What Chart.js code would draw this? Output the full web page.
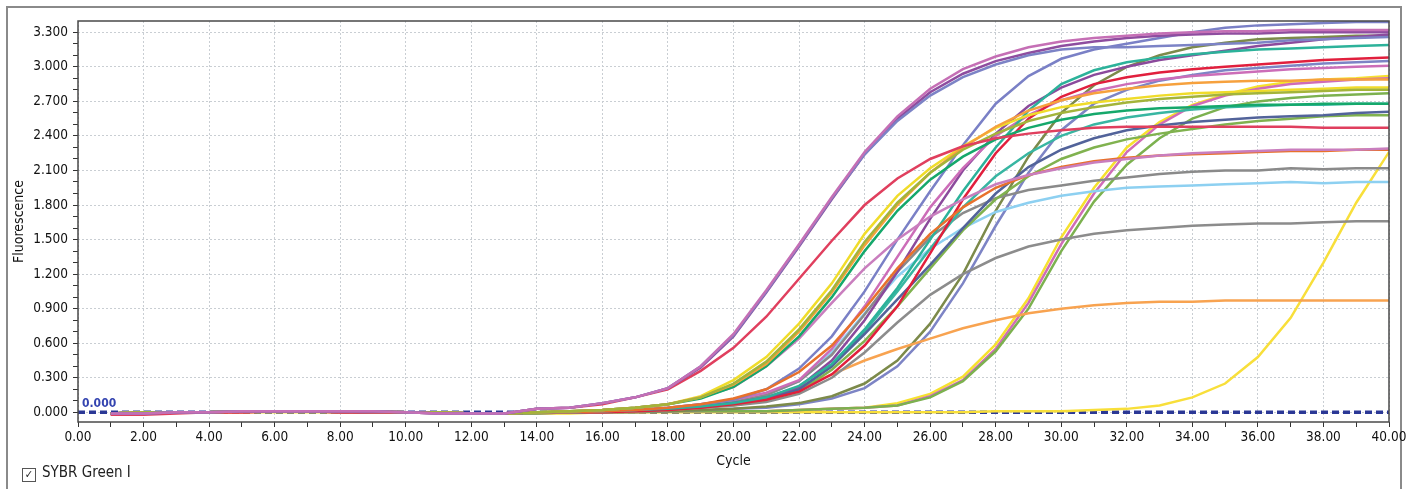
<!DOCTYPE html>
<html>
<head>
<meta charset="utf-8">
<script src="https://cdn.jsdelivr.net/npm/chart.js@4/dist/chart.umd.min.js"></script>
<style>
  html, body { margin: 0; padding: 0; background: #fff; }
  #wrap { position: relative; width: 1415px; height: 489px; overflow: hidden; }
  #frame { position: absolute; left: 6px; top: 6px; width: 1396px; height: 500px; border: 2px solid #8a8a8a; box-sizing: border-box; }
  canvas { position: absolute; left: 0; top: 0; }
  #legend { position: absolute; left: 22px; top: 463px; font: 15px 'DejaVu Sans Condensed', 'Liberation Sans Narrow', sans-serif; color: #222; }
  #legend .box { display: inline-block; width: 12px; height: 12px; border: 1px solid #555; font-size: 11px; line-height: 12px; text-align: center; vertical-align: -1px; margin-right: 6px; }
</style>
</head>
<body>
<div id="wrap">
  <div id="frame"></div>
  <canvas id="chart" width="1415" height="489"></canvas>
  <div id="legend"><span class="box">✓</span>SYBR Green I</div>
</div>
<script>
// cycle numbers
const cycles = [1,2,3,4,5,6,7,8,9,10,11,12,13,14,15,16,17,18,19,20,21,22,23,24,25,26,27,28,29,30,31,32,33,34,35,36,37,38,39,40];

// fluorescence per well
const pinkA = [-0.01,-0.01,0,0,0.01,0.01,0.01,0.01,0.01,0,-0.01,-0.01,-0.01,0.03,0.04,0.08,0.13,0.21,0.4,0.68,1.06,1.46,1.87,2.26,2.57,2.81,2.98,3.09,3.17,3.22,3.25,3.27,3.29,3.3,3.31,3.31,3.32,3.32,3.32,3.32];
const blueA = [-0.01,-0.01,0,0,0.01,0.01,0.01,0.01,0.01,0,-0.01,-0.01,-0.01,0.03,0.04,0.08,0.13,0.21,0.4,0.67,1.05,1.45,1.86,2.24,2.53,2.75,2.91,3.02,3.1,3.15,3.17,3.17,3.18,3.19,3.2,3.21,3.23,3.24,3.25,3.26];
const purpleA = [-0.01,-0.01,0,0,0.01,0.01,0.01,0.01,0.01,0,-0.01,-0.01,-0.01,0.03,0.04,0.08,0.13,0.21,0.39,0.66,1.04,1.44,1.85,2.24,2.55,2.78,2.94,3.05,3.12,3.18,3.22,3.25,3.27,3.28,3.29,3.29,3.3,3.3,3.3,3.3];
const redB = [-0.02,-0.02,-0.01,0,0,0.01,0.01,0,0,0,-0.01,-0.01,-0.01,0.03,0.04,0.07,0.13,0.2,0.36,0.56,0.83,1.16,1.49,1.8,2.03,2.2,2.31,2.38,2.42,2.45,2.47,2.48,2.48,2.48,2.48,2.48,2.48,2.47,2.47,2.47];
const yellowC = [-0.01,0,0,0,0.01,0.01,0.01,0.01,0.01,0,0,-0.01,-0.01,0,0.01,0.02,0.04,0.07,0.14,0.28,0.48,0.77,1.12,1.55,1.88,2.12,2.31,2.47,2.58,2.65,2.69,2.72,2.75,2.77,2.78,2.79,2.8,2.81,2.82,2.82];
const oliveC = [-0.01,0,0,0,0.01,0.01,0.01,0.01,0.01,0,0,-0.01,-0.01,0,0.01,0.02,0.04,0.07,0.13,0.25,0.44,0.72,1.06,1.48,1.82,2.08,2.28,2.42,2.53,2.6,2.65,2.69,2.72,2.74,2.76,2.77,2.78,2.79,2.8,2.8];
const orangeC = [-0.01,0,0,0,0.01,0.01,0.01,0.01,0.01,0,0,-0.01,-0.01,0,0.01,0.02,0.04,0.07,0.13,0.24,0.42,0.7,1.04,1.45,1.8,2.08,2.3,2.48,2.62,2.71,2.77,2.81,2.84,2.86,2.87,2.88,2.88,2.89,2.89,2.89];
const emeraldC = [-0.01,0,0,0,0.01,0.01,0.01,0.01,0.01,0,0,-0.01,-0.01,0,0.01,0.02,0.04,0.07,0.12,0.22,0.4,0.66,1.0,1.4,1.75,2.02,2.22,2.37,2.47,2.54,2.59,2.62,2.64,2.65,2.66,2.67,2.67,2.68,2.68,2.68];
const pinkLowC = [-0.01,0,0,0,0.01,0.01,0.01,0.01,0.01,0,0,-0.01,-0.01,0,0.01,0.02,0.04,0.07,0.13,0.22,0.4,0.64,0.95,1.25,1.5,1.7,1.85,1.98,2.06,2.12,2.17,2.2,2.23,2.25,2.26,2.27,2.28,2.28,2.28,2.29];
const orangeDark = [-0.01,0,0,0,0,0.01,0.01,0.01,0,0,0,-0.01,-0.01,0,0,0.01,0.02,0.04,0.07,0.12,0.2,0.35,0.58,0.9,1.25,1.55,1.78,1.95,2.06,2.13,2.18,2.21,2.23,2.24,2.25,2.26,2.27,2.27,2.28,2.28];
const blueTop = [-0.01,0,0,0,0.01,0.01,0.01,0.01,0,0,0,-0.01,-0.01,0,0,0.01,0.02,0.04,0.07,0.11,0.2,0.38,0.66,1.05,1.5,1.92,2.32,2.68,2.92,3.07,3.15,3.2,3.25,3.3,3.34,3.36,3.37,3.38,3.39,3.39];
const tealD = [-0.01,0,0,0,0.01,0.01,0.01,0.01,0,0,0,-0.01,-0.01,0,0,0.01,0.02,0.03,0.05,0.08,0.13,0.23,0.42,0.72,1.08,1.5,1.92,2.3,2.62,2.85,2.97,3.04,3.08,3.11,3.13,3.15,3.16,3.17,3.18,3.19];
const redD = [-0.02,-0.01,0,0,0,0.01,0.01,0,0,0,0,-0.01,-0.01,0,0,0,0.01,0.02,0.04,0.07,0.11,0.18,0.33,0.58,0.92,1.38,1.85,2.25,2.55,2.74,2.85,2.91,2.95,2.98,3.0,3.02,3.04,3.06,3.07,3.08];
const pinkD = [-0.01,0,0,0,0.01,0.01,0.01,0.01,0,0,0,-0.01,-0.01,0,0,0.01,0.02,0.04,0.07,0.11,0.17,0.28,0.55,0.92,1.35,1.78,2.12,2.4,2.58,2.71,2.79,2.85,2.89,2.92,2.94,2.96,2.98,2.99,3.0,3.01];
const purpleD = [-0.01,0,0,0,0.01,0.01,0.01,0.01,0,0,0,-0.01,-0.01,0,0,0.01,0.02,0.03,0.05,0.08,0.13,0.22,0.45,0.8,1.22,1.68,2.1,2.42,2.66,2.82,2.93,3.0,3.06,3.1,3.14,3.18,3.21,3.24,3.26,3.28];
const slateD = [-0.01,0,0,0,0.01,0.01,0.01,0.01,0,0,0,-0.01,-0.01,0,0,0.01,0.02,0.03,0.05,0.08,0.12,0.2,0.4,0.68,0.98,1.28,1.6,1.9,2.13,2.28,2.38,2.45,2.49,2.52,2.54,2.56,2.57,2.58,2.6,2.61];
const greenD = [-0.01,0,0,0,0.01,0.01,0.01,0.01,0,0,0,-0.01,-0.01,0,0,0.01,0.02,0.03,0.05,0.07,0.11,0.18,0.37,0.62,0.92,1.25,1.58,1.85,2.05,2.2,2.3,2.37,2.42,2.46,2.5,2.53,2.55,2.57,2.58,2.58];
const teal2D = [-0.01,0,0,0,0.01,0.01,0.01,0.01,0,0,0,-0.01,-0.01,0,0,0.01,0.02,0.03,0.05,0.08,0.13,0.2,0.4,0.7,1.05,1.42,1.78,2.05,2.25,2.4,2.5,2.56,2.6,2.63,2.65,2.66,2.67,2.67,2.68,2.68];
const grayHigh = [-0.01,0,0,0,0.01,0.01,0.01,0.01,0,0,0,-0.01,-0.01,0,0,0.01,0.02,0.03,0.06,0.09,0.15,0.27,0.5,0.85,1.22,1.52,1.73,1.86,1.93,1.97,2.01,2.04,2.07,2.09,2.1,2.1,2.12,2.11,2.12,2.12];
const lightBlue = [-0.01,0,0,0,0.01,0.01,0.01,0.01,0,0,0,-0.01,-0.01,0,0,0.01,0.02,0.03,0.06,0.09,0.15,0.27,0.52,0.86,1.18,1.42,1.6,1.74,1.82,1.88,1.92,1.95,1.96,1.97,1.98,1.99,2.0,1.99,2.0,2.0];
const grayLow = [-0.01,0,0,0,0.01,0.01,0.01,0.01,0,0,0,-0.01,-0.01,0,0,0,0.01,0.02,0.04,0.06,0.09,0.16,0.3,0.52,0.78,1.02,1.2,1.34,1.44,1.5,1.55,1.58,1.6,1.62,1.63,1.64,1.64,1.65,1.66,1.66];
const orangeLight = [-0.01,0,0,0,0.01,0.01,0.01,0.01,0,0,0,-0.01,-0.01,0,0,0,0.01,0.02,0.04,0.06,0.11,0.2,0.33,0.45,0.55,0.64,0.73,0.8,0.86,0.9,0.93,0.95,0.96,0.96,0.97,0.97,0.97,0.97,0.97,0.97];
const oliveE = [-0.01,0,0,0,0.01,0.01,0.01,0.01,0,0,0,-0.01,-0.01,0,0,0,0.01,0.01,0.02,0.03,0.05,0.08,0.14,0.25,0.45,0.77,1.2,1.75,2.22,2.6,2.84,3.0,3.1,3.17,3.21,3.24,3.25,3.26,3.27,3.27];
const blueE = [-0.01,0,0,0,0.01,0.01,0.01,0.01,0,0,0,-0.01,-0.01,0,0,0,0.01,0.01,0.02,0.03,0.04,0.07,0.12,0.21,0.4,0.7,1.12,1.62,2.08,2.45,2.68,2.8,2.88,2.93,2.97,2.99,3.01,3.03,3.04,3.05];
const yellowF = [-0.01,0,0,0,0.01,0.01,0.01,0,0,0,0,-0.01,-0.01,-0.01,0,0,0,0.01,0.01,0.01,0.01,0.02,0.03,0.04,0.08,0.16,0.31,0.59,0.99,1.52,1.95,2.3,2.52,2.67,2.76,2.83,2.87,2.89,2.9,2.92];
const pinkF = [-0.01,0,0,0,0.01,0.01,0.01,0,0,0,0,-0.01,-0.01,-0.01,0,0,0,0.01,0.01,0.01,0.01,0.02,0.03,0.04,0.06,0.14,0.28,0.55,0.95,1.46,1.9,2.26,2.5,2.66,2.75,2.81,2.85,2.87,2.89,2.9];
const greenF = [-0.01,0,0,0,0.01,0.01,0.01,0,0,0,0,-0.01,-0.01,-0.01,0,0,0,0.01,0.01,0.01,0.01,0.02,0.03,0.04,0.06,0.13,0.27,0.53,0.9,1.4,1.83,2.15,2.38,2.55,2.65,2.7,2.73,2.75,2.76,2.77];
const yellowLate = [-0.01,-0.01,0,0,0,0,0,0,0,0,0,-0.01,-0.01,-0.01,-0.01,0,0,0,0,0,0,0,0,0,0,0,0,0.01,0.01,0.01,0.02,0.03,0.06,0.13,0.25,0.48,0.82,1.3,1.82,2.26];

// threshold line
const thresholdX = [0, 40];
const thresholdY = [0, 0];

const wells = [
  [pinkA, '#c56fb5'], [blueA, '#7c83c6'], [purpleA, '#8e4d9f'], [redB, '#e03f5e'],
  [oliveC, '#a3b43a'], [orangeC, '#f6a13d'], [emeraldC, '#15a86b'], [pinkLowC, '#c97ebe'],
  [yellowC, '#f0dc2a'], [orangeDark, '#e8712c'], [blueTop, '#7a80c6'], [tealD, '#2cb29a'],
  [redD, '#e11f3d'], [pinkD, '#cc6db8'], [purpleD, '#8b4a9c'], [slateD, '#52639a'],
  [greenD, '#80b24f'], [teal2D, '#38b6a2'], [grayHigh, '#8a8a8a'], [lightBlue, '#8dd0f1'],
  [grayLow, '#8c8c8c'], [orangeLight, '#f8a350'], [oliveE, '#7c8a4a'], [blueE, '#7d84c5'],
  [greenF, '#7cb14f'], [pinkF, '#d06cb6'], [yellowF, '#f6e12e'], [yellowLate, '#f8df3a']
];

const FONT = "'DejaVu Sans Condensed', 'Liberation Sans Narrow', sans-serif";
const GRID = '#c9ced3';

const datasets = wells.map(([vals, color]) => ({
  data: vals.map((v, i) => ({ x: cycles[i], y: v })),
  borderColor: color,
  borderWidth: 2.5,
  pointRadius: 0,
  tension: 0,
  fill: false
}));

datasets.push({
  data: thresholdX.map((x, i) => ({ x: x, y: thresholdY[i] })),
  borderColor: '#2b3896',
  borderWidth: 3.5,
  borderDash: [7, 4],
  pointRadius: 0,
  fill: false
});

// plot frame + threshold label
const framePlugin = {
  id: 'framePlugin',
  afterDraw(chart) {
    const { ctx, chartArea: a, scales } = chart;
    ctx.save();
    ctx.strokeStyle = '#4a4a4a';
    ctx.lineWidth = 1.5;
    ctx.strokeRect(a.left, a.top, a.right - a.left, a.bottom - a.top);
    const y0 = scales.y.getPixelForValue(thresholdY[0]);
    ctx.fillStyle = '#3444b0';
    ctx.font = 'bold 12px ' + FONT;
    ctx.textBaseline = 'bottom';
    ctx.fillText('0.000', a.left + 4, y0 - 2);
    ctx.restore();
  }
};

new Chart(document.getElementById('chart'), {
  type: 'line',
  data: { datasets: datasets },
  plugins: [framePlugin],
  options: {
    responsive: false,
    animation: false,
    devicePixelRatio: 1,
    layout: { padding: { top: 21, right: 26, left: 0, bottom: 0 } },
    plugins: { legend: { display: false }, tooltip: { enabled: false } },
    scales: {
      x: {
        type: 'linear',
        min: 0,
        max: 40,
        afterFit: (s) => { s.height = 67; },
        afterBuildTicks: (s) => {
          const t = [];
          for (let i = 0; i <= 40; i++) t.push({ value: i });
          s.ticks = t;
        },
        ticks: {
          autoSkip: false,
          maxRotation: 0,
          padding: 2,
          color: '#111',
          font: { family: FONT, size: 13.5 },
          callback: (v) => (v % 2 === 0 ? v.toFixed(2) : '')
        },
        grid: {
          color: (c) => (c.tick && c.tick.value % 2 === 0 ? GRID : 'rgba(0,0,0,0)'),
          tickColor: '#333',
          tickLength: 5,
          lineWidth: 1
        },
        border: { display: false, dash: [2, 2] },
        title: { display: true, text: 'Cycle', color: '#111', font: { family: FONT, size: 14 }, padding: { bottom: 19 } }
      },
      y: {
        type: 'linear',
        min: -0.084,
        max: 3.398,
        afterFit: (s) => { s.width = 78; },
        afterBuildTicks: (s) => {
          const t = [];
          for (let k = 0; k <= 33; k++) t.push({ value: k / 10 });
          s.ticks = t;
        },
        ticks: {
          autoSkip: false,
          padding: 5,
          color: '#111',
          font: { family: FONT, size: 13.5 },
          callback: (v) => (Math.round(v * 10) % 3 === 0 ? v.toFixed(3) : '')
        },
        grid: {
          color: (c) => (c.tick && Math.round(c.tick.value * 10) % 3 === 0 ? GRID : 'rgba(0,0,0,0)'),
          tickColor: '#333',
          tickLength: 5,
          lineWidth: 1
        },
        border: { display: false, dash: [2, 2] },
        title: { display: true, text: 'Fluorescence', color: '#111', font: { family: FONT, size: 14 }, padding: { top: 11 } }
      }
    }
  }
});
</script>
</body>
</html>
